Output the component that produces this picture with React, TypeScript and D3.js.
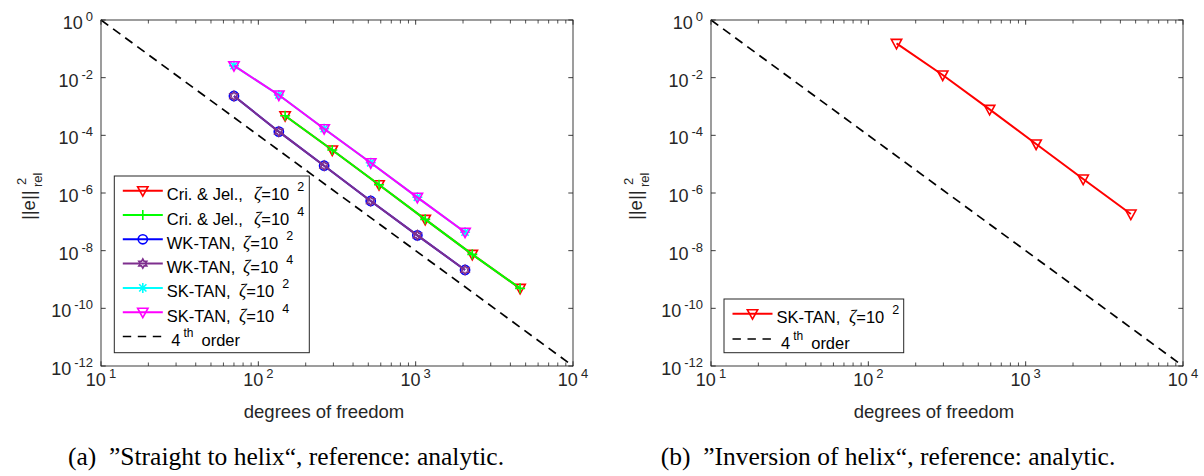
import React from "react";
import * as d3 from "d3";

// ---------- data ----------
const dofSK = [70, 135, 262, 518, 1025, 2060];
const errSK2 = [2.6e-2, 2.51e-3, 1.7e-4, 1.12e-5, 7.08e-7, 4.37e-8];
const errSK4 = [2.6e-2, 2.51e-3, 1.7e-4, 1.12e-5, 7.08e-7, 4.37e-8];
const dofWK = [70, 135, 262, 518, 1025, 2060];
const errWK2 = [2.31e-3, 1.34e-4, 8.85e-6, 5.27e-7, 3.4e-8, 2.14e-9];
const errWK4 = [2.31e-3, 1.34e-4, 8.85e-6, 5.27e-7, 3.4e-8, 2.14e-9];
const dofCJ = [148, 295, 585, 1150, 2290, 4610];
const errCJ2 = [4.8e-4, 3.1e-5, 1.94e-6, 1.22e-7, 7.46e-9, 4.93e-10];
const errCJ4 = [4.8e-4, 3.1e-5, 1.94e-6, 1.22e-7, 7.46e-9, 4.93e-10];
const dofInv = [151, 297, 590, 1165, 2320, 4660];
const errInv = [0.155, 1.24e-2, 7.98e-4, 5.01e-5, 3.05e-6, 1.86e-7];
const dofOrder = [10, 1e4];
const errOrder = [1, 1e-12];

const xTickExps = [1, 2, 3, 4];
const yTickExps = [0, -2, -4, -6, -8, -10, -12];

const captionA = "(a)\u2002\u201DStraight to helix\u201C, reference: analytic.";
const captionB = "(b)\u2002\u201DInversion of helix\u201C, reference: analytic.";

type Marker = "v" | "+" | "o" | "h" | "*" | "none";
interface Series {
  x: number[];
  y: number[];
  color: string;
  marker: Marker;
  label: string;
  zeta?: string;
  dashed?: boolean;
}

const seriesA: Series[] = [
  { x: dofCJ, y: errCJ2, color: "#FF0000", marker: "v", label: "Cri. & Jel.,", zeta: "2" },
  { x: dofCJ, y: errCJ4, color: "#00FF00", marker: "+", label: "Cri. & Jel.,", zeta: "4" },
  { x: dofWK, y: errWK2, color: "#0000FF", marker: "o", label: "WK-TAN,", zeta: "2" },
  { x: dofWK, y: errWK4, color: "#7E2F8E", marker: "h", label: "WK-TAN,", zeta: "4" },
  { x: dofSK, y: errSK2, color: "#00FFFF", marker: "*", label: "SK-TAN,", zeta: "2" },
  { x: dofSK, y: errSK4, color: "#FF00FF", marker: "v", label: "SK-TAN,", zeta: "4" },
  { x: dofOrder, y: errOrder, color: "#000000", marker: "none", label: "4th", dashed: true },
];
const seriesB: Series[] = [
  { x: dofInv, y: errInv, color: "#FF0000", marker: "v", label: "SK-TAN,", zeta: "2" },
  { x: dofOrder, y: errOrder, color: "#000000", marker: "none", label: "4th", dashed: true },
];

const SANS = "'Liberation Sans', Arial, Helvetica, sans-serif";
const SERIF = "'Liberation Serif', 'Times New Roman', serif";
const AX = "#262626";

function MarkerShape({ m, cx, cy, color }: { m: Marker; cx: number; cy: number; color: string }) {
  const sw = 1.6;
  if (m === "v") {
    const p = `${cx - 5.2},${cy - 4} ${cx + 5.2},${cy - 4} ${cx},${cy + 5.5}`;
    return <polygon points={p} fill="none" stroke={color} strokeWidth={sw} strokeLinejoin="miter" />;
  }
  if (m === "+") {
    return (
      <path d={`M${cx - 5},${cy}H${cx + 5}M${cx},${cy - 5}V${cy + 5}`} stroke={color} strokeWidth={sw} />
    );
  }
  if (m === "*") {
    const a = 3.6;
    return (
      <path
        d={`M${cx - 5},${cy}H${cx + 5}M${cx},${cy - 5}V${cy + 5}M${cx - a},${cy - a}L${cx + a},${cy + a}M${cx - a},${cy + a}L${cx + a},${cy - a}`}
        stroke={color}
        strokeWidth={sw}
      />
    );
  }
  if (m === "o") {
    return <circle cx={cx} cy={cy} r={4.6} fill="none" stroke={color} strokeWidth={sw} />;
  }
  if (m === "h") {
    const pts: string[] = [];
    for (let i = 0; i < 12; i++) {
      const r = i % 2 === 0 ? 4.6 : 2.6;
      const a = -Math.PI / 2 + (i * Math.PI) / 6;
      pts.push(`${cx + r * Math.cos(a)},${cy + r * Math.sin(a)}`);
    }
    return <polygon points={pts.join(" ")} fill="none" stroke={color} strokeWidth={sw} />;
  }
  return null;
}

interface PanelProps {
  ox: number;
  series: Series[];
  legend: { x0: number; y0: number; x1: number; y1: number; rowY: number[]; zetaX: number[] };
  xlabelCx: number;
  ylabelX: number;
  caption: string;
  captionCx: number;
}

function Panel({ ox, series, legend, xlabelCx, ylabelX, caption, captionCx }: PanelProps) {
  const left = ox;
  const right = ox + 472;
  const top = 20;
  const bottom = 366;
  const x = d3.scaleLog().domain([10, 1e4]).range([left, right]);
  const y = d3.scaleLog().domain([1e-12, 1]).range([bottom, top]);
  const line = d3
    .line<[number, number]>()
    .x((d) => x(d[0]))
    .y((d) => y(d[1]));
  const tl = 4.7;

  const minor: number[] = [];
  for (let e = 1; e < 4; e++) for (let k = 2; k <= 9; k++) minor.push(k * Math.pow(10, e));

  return (
    <g>
      <rect x={left} y={top} width={right - left} height={bottom - top} fill="#fff" />
      {/* data */}
      {series.map((s, i) => {
        const pts = s.x.map((v, j) => [v, s.y[j]] as [number, number]);
        return (
          <g key={i}>
            <path
              d={line(pts) || ""}
              fill="none"
              stroke={s.color}
              strokeWidth={s.dashed ? 1.7 : 2}
              strokeDasharray={s.dashed ? "9,6" : undefined}
            />
            {pts.map((p, j) => (
              <MarkerShape key={j} m={s.marker} cx={x(p[0])} cy={y(p[1])} color={s.color} />
            ))}
          </g>
        );
      })}
      {/* axes box */}
      <rect x={left} y={top} width={right - left} height={bottom - top} fill="none" stroke={AX} strokeWidth={0.9} />
      {/* x ticks */}
      {xTickExps.map((e) => {
        const px = x(Math.pow(10, e));
        return (
          <g key={"xt" + e}>
            <line x1={px} x2={px} y1={bottom} y2={bottom - tl} stroke={AX} strokeWidth={0.9} />
            <line x1={px} x2={px} y1={top} y2={top + tl} stroke={AX} strokeWidth={0.9} />
            <text x={px} y={386} textAnchor="middle" fontFamily={SANS} fontSize={18} fill={AX}>
              10
              <tspan fontSize={13} dx={3} dy={-8}>
                {e}
              </tspan>
            </text>
          </g>
        );
      })}
      {minor.map((v, i) => {
        const px = x(v);
        return (
          <g key={"mx" + i}>
            <line x1={px} x2={px} y1={bottom} y2={bottom - 3.5} stroke={AX} strokeWidth={0.8} />
            <line x1={px} x2={px} y1={top} y2={top + 3.5} stroke={AX} strokeWidth={0.8} />
          </g>
        );
      })}
      {/* y ticks */}
      {yTickExps.map((e) => {
        const py = y(Math.pow(10, e));
        return (
          <g key={"yt" + e}>
            <line x1={left} x2={left + tl} y1={py} y2={py} stroke={AX} strokeWidth={0.9} />
            <line x1={right} x2={right - tl} y1={py} y2={py} stroke={AX} strokeWidth={0.9} />
            <text x={left - 8} y={py + 9} textAnchor="end" fontFamily={SANS} fontSize={18} fill={AX}>
              10
              <tspan fontSize={13} dx={3} dy={-8}>
                {e === 0 ? "0" : "-" + Math.abs(e)}
              </tspan>
            </text>
          </g>
        );
      })}
      {/* x label */}
      <text x={xlabelCx} y={418} textAnchor="middle" fontFamily={SANS} fontSize={18.5} fill={AX}>
        degrees of freedom
      </text>
      {/* y label */}
      <g transform={`translate(${ylabelX},220) rotate(-90)`} fontFamily={SANS} fill={AX}>
        <text x={0} y={0} fontSize={18.5}>
          ||e||
        </text>
        <text x={35} y={-9} fontSize={13}>
          2
        </text>
        <text x={33} y={7} fontSize={13}>
          rel
        </text>
      </g>
      {/* legend */}
      <rect
        x={legend.x0}
        y={legend.y0}
        width={legend.x1 - legend.x0}
        height={legend.y1 - legend.y0}
        fill="#fff"
        stroke={AX}
        strokeWidth={1}
      />
      {series.map((s, i) => {
        const ly = legend.rowY[i];
        const lx0 = legend.x0 + 8.5;
        const lx1 = lx0 + 40;
        const tx = lx1 + 4;
        return (
          <g key={"lg" + i}>
            <line
              x1={lx0}
              x2={lx1}
              y1={ly}
              y2={ly}
              stroke={s.color}
              strokeWidth={s.dashed ? 1.7 : 2}
              strokeDasharray={s.dashed ? "8.4,6.6" : undefined}
            />
            <MarkerShape m={s.marker} cx={(lx0 + lx1) / 2} cy={ly} color={s.color} />
            {s.dashed ? (
              <text x={tx + 4.5} y={ly + 9.5} fontFamily={SANS} fontSize={16.5} fill="#000">
                4
                <tspan fontSize={12} dx={3} dy={-9}>
                  th
                </tspan>
                <tspan dx={8} dy={9}>
                  order
                </tspan>
              </text>
            ) : (
              <text x={tx} y={ly + 9.5} fontFamily={SANS} fontSize={16.5} fill="#000">
                {s.label}
                <tspan x={legend.zetaX[i]} fontFamily={SERIF} fontStyle="italic" fontSize={18}>
                  ζ
                </tspan>
                <tspan>=10</tspan>
                <tspan fontSize={12.5} dx={8} dy={-9}>
                  {s.zeta}
                </tspan>
              </text>
            )}
          </g>
        );
      })}
      {/* caption */}
      <text x={captionCx} y={465} textAnchor="middle" fontFamily={SERIF} fontSize={25.5} fill="#000">
        {caption}
      </text>
    </g>
  );
}

export default function App() {
  const rowsA = [0, 1, 2, 3, 4, 5, 6].map((i) => 190.7 + i * 24.3);
  return (
    <svg width={1204} height={476} style={{ position: "absolute", left: 0, top: 0, background: "#fff" }}>
      <rect x={0} y={0} width={1204} height={476} fill="#fff" />
      <Panel
        ox={101}
        series={seriesA}
        legend={{ x0: 114.3, y0: 176, x1: 309.3, y1: 352.7, rowY: rowsA, zetaX: [254, 254, 243, 243, 239, 239, 0] }}
        xlabelCx={324}
        ylabelX={35}
        caption={captionA}
        captionCx={286}
      />
      <Panel
        ox={711}
        series={seriesB}
        legend={{ x0: 724, y0: 299, x1: 903.7, y1: 352.7, rowY: [313.7, 339], zetaX: [849, 0] }}
        xlabelCx={934}
        ylabelX={642}
        caption={captionB}
        captionCx={888}
      />
    </svg>
  );
}
